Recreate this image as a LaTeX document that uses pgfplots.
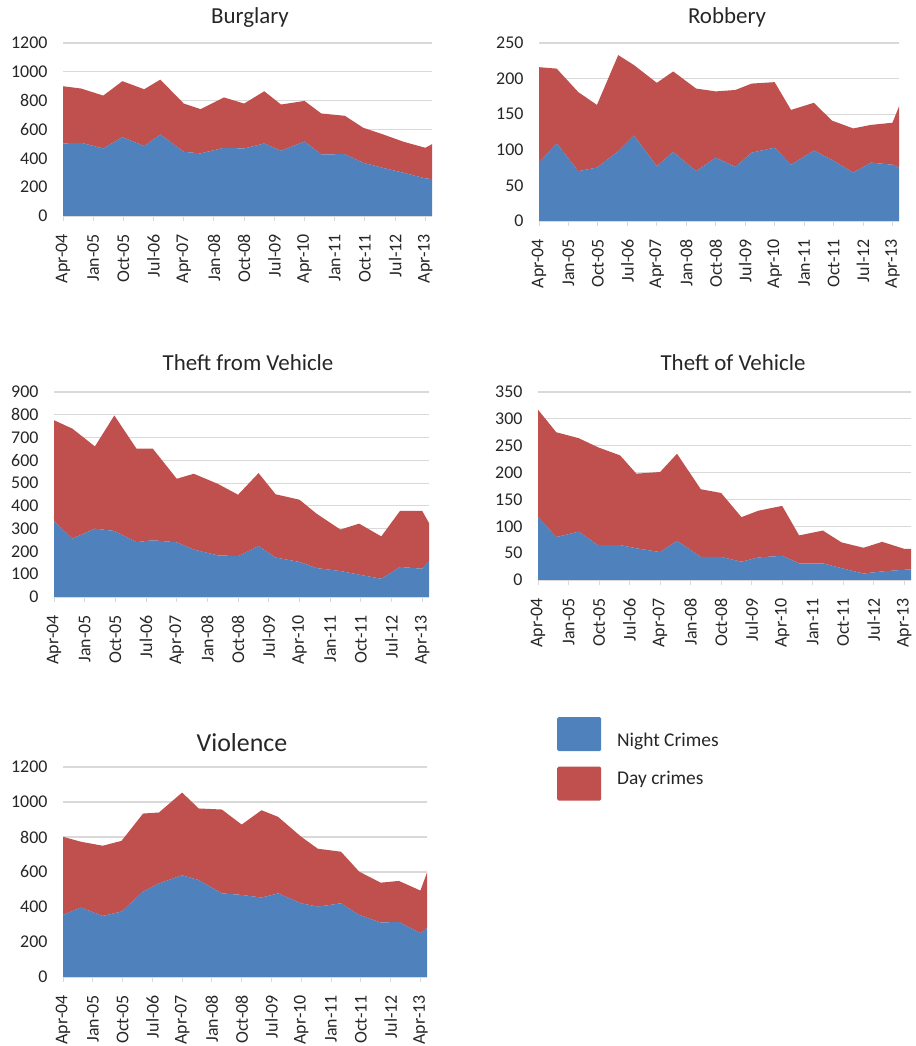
\documentclass[border=0pt]{standalone}
\usepackage{fontspec}
\setmainfont{Carlito}
\usepackage{pgfplots}
\usepackage{pgfplotstable}
\pgfplotsset{compat=1.18}

\definecolor{nightblue}{HTML}{4F81BD}
\definecolor{dayred}{HTML}{C0504D}
\definecolor{gridgray}{HTML}{D9D9D9}
\definecolor{ticktext}{HTML}{262626}

% x = months since April 2004
\pgfplotstableread{
x night day
0 503 397
5.4 508 376
12 468 367
17.7 547 388
24.2 485 394
29 565 381
36 445 335
41 434 307
48 473 349
54 468 312
60 503 362
65 452 321
72 517 281
77 427 284
84 429 266
89.5 369 243
96 330 231
101.5 300 215
108 261 212
110 256 242
}\burglary

\pgfplotstableread{
x night day
0 82 134
5.4 109 105
12 70 111
17.7 75 88
24.2 98 135
29 120 99
36 77 117
41 97 113
48 70 116
54 89 93
60 76 108
65 96 97
72 103 92
77 79 77
84 99 67
89.5 86 55
96 68 62
101.5 82 53
108 79 59
110 75 86
}\robbery

\pgfplotstableread{
x night day
0 334 442
5.4 256 483
12 300 361
17.7 290 507
24.2 241 410
29 249 402
36 240 279
41 208 333
48 183 314
54 179 270
60 224 320
65 173 278
72 154 273
77 127 239
84 114 182
89.5 98 224
96 80 186
101.5 132 246
108 124 254
110 157 168
}\theftfrom

\pgfplotstableread{
x night day
0 117 200
5.4 80 195
12 90 174
17.7 65 182
24.2 65 167
29 59 139
36 52 149
41 73 162
48 43 126
54 43 119
60 34 83
65 42 87
72 45 93
77 31 52
84 31 61
89.5 22 48
96 12 48
101.5 16 55
108 19 39
110 20 38
}\theftof

\pgfplotstableread{
x night day
0 355 446
5.4 397 376
12 349 401
17.7 374 404
24.2 488 446
29 535 405
36 581 473
41 554 409
48 478 479
54 469 402
60 454 499
65 478 437
72 421 380
77 402 331
84 421 295
89.5 355 247
96 311 228
101.5 315 234
108 251 243
110 279 317
}\violence

\pgfplotsset{
  crime/.style={
    scale only axis,
    anchor=south west,
    xmin=0, xmax=110,
    ymin=0,
    stack plots=y,
    axis lines*=left,
    x axis line style={-, draw=gridgray, line width=1bp},
    y axis line style={draw=none},
    xtick={0,9,...,108},
    xticklabels={Apr-04,Jan-05,Oct-05,Jul-06,Apr-07,Jan-08,Oct-08,Jul-09,Apr-10,Jan-11,Oct-11,Jul-12,Apr-13},
    tick align=outside,
    major tick length=5bp,
    xtick style={draw=gridgray, line width=1bp},
    ytick style={draw=none},
    ymajorgrids,
    grid style={draw=gridgray, line width=1.2bp},
    scaled y ticks=false,
    /pgf/number format/1000 sep={},
    /pgf/number format/assume math mode=true,
    tick label style={font=\fontsize{18}{20}\selectfont, text=ticktext},
    xticklabel style={rotate=90, anchor=east, inner xsep=13bp},
    yticklabel style={xshift=-7bp},
    title style={font=\fontsize{23}{26}\selectfont, text=ticktext, anchor=base, at={(0.5,1)}},
  },
}

\begin{document}
\begin{tikzpicture}[x=1bp,y=1bp]
\useasboundingbox (0,0) rectangle (916,1046);

% Burglary
\begin{axis}[crime, at={(63bp,830bp)}, width=369bp, height=173bp,
  ymax=1200, ytick={0,200,...,1200},
  title={Burglary}, title style={yshift=14bp, xshift=2.5bp}]
\addplot[fill=nightblue, draw=none] table[x=x,y=night]{\burglary} \closedcycle;
\addplot[fill=dayred, draw=none] table[x=x,y=day]{\burglary} \closedcycle;
\end{axis}

% Robbery
\begin{axis}[crime, at={(539bp,825bp)}, width=360bp, height=178bp,
  ymax=250, ytick={0,50,...,250},
  title={Robbery}, title style={yshift=14bp, xshift=8bp}]
\addplot[fill=nightblue, draw=none] table[x=x,y=night]{\robbery} \closedcycle;
\addplot[fill=dayred, draw=none] table[x=x,y=day]{\robbery} \closedcycle;
\end{axis}

% Theft from Vehicle
\begin{axis}[crime, at={(54bp,449bp)}, width=375bp, height=205bp,
  ymax=900, ytick={0,100,...,900},
  title={Theft from Vehicle}, title style={yshift=16bp, xshift=6.5bp}]
\addplot[fill=nightblue, draw=none] table[x=x,y=night]{\theftfrom} \closedcycle;
\addplot[fill=dayred, draw=none] table[x=x,y=day]{\theftfrom} \closedcycle;
\end{axis}

% Theft of Vehicle
\begin{axis}[crime, at={(538bp,466bp)}, width=373bp, height=188bp,
  ymax=350, ytick={0,50,...,350},
  title={Theft of Vehicle}, title style={yshift=16bp, xshift=8.5bp}]
\addplot[fill=nightblue, draw=none] table[x=x,y=night]{\theftof} \closedcycle;
\addplot[fill=dayred, draw=none] table[x=x,y=day]{\theftof} \closedcycle;
\end{axis}

% Violence
\begin{axis}[crime, at={(63bp,69bp)}, width=364bp, height=210bp,
  ymax=1200, ytick={0,200,...,1200},
  title={Violence}, title style={yshift=10bp, xshift=-3bp, font=\fontsize{26}{30}\selectfont},
  legend style={at={(1.3571,1.2381)}, anchor=north west, draw=none, fill=none,
    inner sep=0pt, row sep=15.5bp, column sep=14bp,
    font=\fontsize{19.5}{22}\selectfont, text=ticktext},
  legend cell align=left]
\addplot[fill=nightblue, draw=none,
  legend image code/.code={\fill[fill=nightblue, rounded corners=1.5bp] (0bp,-11bp) rectangle (44bp,23bp);}]
  table[x=x,y=night]{\violence} \closedcycle;
\addlegendentry{Night Crimes}
\addplot[fill=dayred, draw=none,
  legend image code/.code={\fill[fill=dayred, rounded corners=1.5bp] (0bp,-22.5bp) rectangle (44bp,11.5bp);}]
  table[x=x,y=day]{\violence} \closedcycle;
\addlegendentry{Day crimes}
\end{axis}
\end{tikzpicture}
\end{document}
